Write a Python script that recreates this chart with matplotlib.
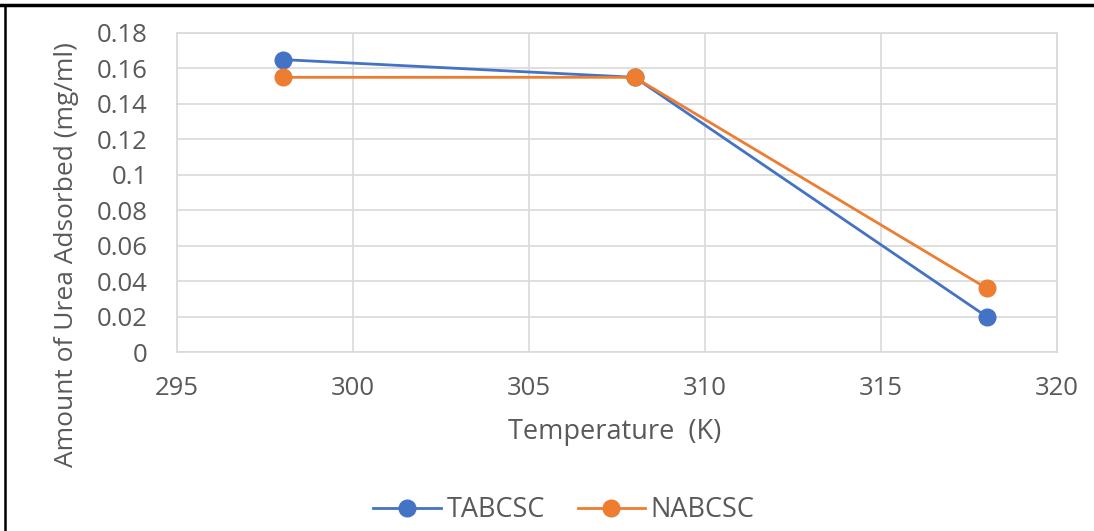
import matplotlib
matplotlib.use("Agg")
import matplotlib.pyplot as plt
from matplotlib.lines import Line2D

temperature = [298, 308, 318]
tabcsc = [0.165, 0.155, 0.020]
nabcsc = [0.155, 0.155, 0.036]
series_names = ["TABCSC", "NABCSC"]
xticks = [295, 300, 305, 310, 315, 320]
yticks = [0, 0.02, 0.04, 0.06, 0.08, 0.1, 0.12, 0.14, 0.16, 0.18]
ytick_labels = ["0", "0.02", "0.04", "0.06", "0.08", "0.1", "0.12", "0.14", "0.16", "0.18"]

W, H = 1094, 531
fig = plt.figure(figsize=(W / 100, H / 100), dpi=100)
plt.rcParams['font.family'] = ['Open Sans', 'DejaVu Sans']

left, right, top, bottom = 177, 1057, 33, 352
ax = fig.add_axes([left / W, 1 - bottom / H, (right - left) / W, (bottom - top) / H])

blue = "#4472C4"
orange = "#ED7D31"
ax.plot(temperature, tabcsc, color=blue, lw=2.0, marker="o", ms=12, label=series_names[0], zorder=3, clip_on=False)
ax.plot(temperature, nabcsc, color=orange, lw=2.0, marker="o", ms=12, label=series_names[1], zorder=3, clip_on=False)

ax.set_xlim(295, 320)
ax.set_ylim(0, 0.18)
ax.set_xticks(xticks)
ax.set_xticklabels([str(t) for t in xticks])
ax.set_yticks(yticks)
ax.set_yticklabels(ytick_labels)
ax.grid(True, color="#d9d9d9", lw=1.2)
ax.set_axisbelow(True)
for s in ax.spines.values():
    s.set_color("#d9d9d9")
    s.set_linewidth(1.2)
ax.tick_params(length=0, labelsize=18.5, colors="#595959")
ax.tick_params(axis="y", pad=21)
ax.tick_params(axis="x", pad=17)

fig.text(615 / W, 1 - 432 / H, "Temperature  (K)", ha="center", va="center", fontsize=19.5, color="#595959")
fig.text(67 / W, 1 - 255 / H, "Amount of Urea Adsorbed (mg/ml)", ha="center", va="center", rotation=90, fontsize=19, color="#595959")

leg = fig.legend(loc="center", bbox_to_anchor=(564 / W, 1 - 510 / H), ncol=2, frameon=False,
                 fontsize=19.5, labelcolor="#595959", handlelength=2.5, columnspacing=1.2, handletextpad=0.2)

# outer box borders
fig.add_artist(Line2D([0, 1], [1 - 4.5 / H, 1 - 4.5 / H], color="black", lw=2.5, transform=fig.transFigure))
fig.add_artist(Line2D([5 / W, 5 / W], [0, 1 - 4.5 / H], color="black", lw=1.8, transform=fig.transFigure))

fig.savefig("out.png", dpi=100)
